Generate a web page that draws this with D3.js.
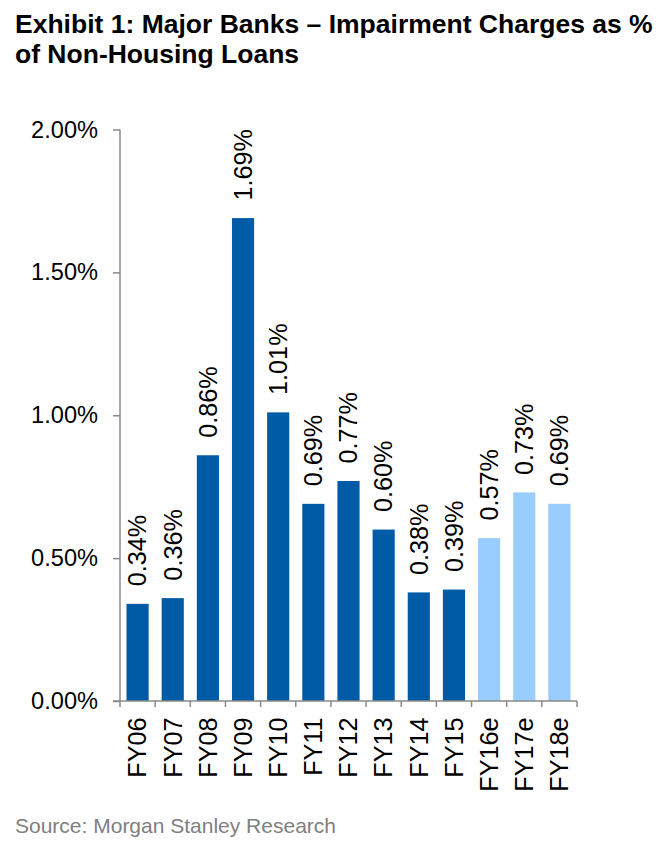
<!DOCTYPE html>
<html>
<head>
<meta charset="utf-8">
<script src="https://cdn.jsdelivr.net/npm/d3@7"></script>
<style>
  html, body { margin: 0; padding: 0; background: #fff; }
  svg { display: block; font-family: "Liberation Sans", Arial, sans-serif; }
</style>
</head>
<body>
<svg id="chart" width="666" height="845"></svg>
<script>
const categories = ["FY06","FY07","FY08","FY09","FY10","FY11","FY12","FY13","FY14","FY15","FY16e","FY17e","FY18e"];
const values = [0.34, 0.36, 0.86, 1.69, 1.01, 0.69, 0.77, 0.60, 0.38, 0.39, 0.57, 0.73, 0.69];
const isEstimate = [false,false,false,false,false,false,false,false,false,false,true,true,true];
const yTicks = [0, 0.5, 1.0, 1.5, 2.0];
const titleLines = ["Exhibit 1: Major Banks \u2013 Impairment Charges as %", "of Non-Housing Loans"];
const sourceText = "Source: Morgan Stanley Research";

(function () {
const svg = d3.select("#chart");
const pl = 120, pr = 577, pt = 129.5, pb = 701;
const axisColor = "#8a8a8a";

const x = d3.scaleBand().domain(categories).range([pl, pr]).paddingInner(0.37).paddingOuter(0.185);
const xb = d3.scaleBand().domain(categories).range([pl, pr]);
const y = d3.scaleLinear().domain([0, 2]).range([pb, pt]);

// Title
svg.append("g").selectAll("text").data(titleLines).join("text")
  .attr("x", 15).attr("y", (d, i) => 33 + i * 30)
  .attr("font-size", 26.5).attr("font-weight", "bold").attr("fill", "#000")
  .text(d => d);

// Bars
svg.append("g").selectAll("rect").data(values).join("rect")
  .attr("x", (d, i) => x(categories[i]))
  .attr("width", x.bandwidth())
  .attr("y", d => y(d))
  .attr("height", d => y(0) - y(d))
  .attr("fill", (d, i) => isEstimate[i] ? "#99CCFF" : "#005BA6");

// Value labels
svg.append("g").selectAll("text").data(values).join("text")
  .attr("transform", (d, i) => `translate(${x(categories[i]) + x.bandwidth() / 2},${y(d) - 17.5}) rotate(-90)`)
  .attr("dy", "0.35em")
  .attr("font-size", 25.2).attr("fill", "#000")
  .text(d => d.toFixed(2) + "%");

// Y axis
const yAxis = d3.axisLeft(y).tickValues(yTicks).tickSize(7).tickPadding(15)
  .tickFormat(d => d.toFixed(2) + "%");
const gy = svg.append("g").attr("transform", `translate(${pl},0)`).call(yAxis);
gy.select(".domain").attr("stroke", axisColor).attr("stroke-width", 1.5).attr("d", `M0,${pt}V${pb}`);
gy.selectAll(".tick line").attr("stroke", axisColor).attr("stroke-width", 1.5);
gy.selectAll(".tick text").attr("font-size", 23.6).attr("fill", "#000").attr("font-family", "Liberation Sans, Arial, sans-serif");

// X axis
const xAxis = d3.axisBottom(xb).tickSize(0).tickFormat("");
const gx = svg.append("g").attr("transform", `translate(0,${pb})`).call(xAxis);
gx.select(".domain").attr("stroke", axisColor).attr("stroke-width", 1.5).attr("d", `M${pl - 7},0H${pr}`);
gx.selectAll(".tick").remove();
const boundaries = categories.map(c => xb(c)).concat([pr]);
gx.selectAll("line.bt").data(boundaries).join("line").attr("class", "bt")
  .attr("x1", d => d).attr("x2", d => d).attr("y1", 0).attr("y2", 6)
  .attr("stroke", axisColor).attr("stroke-width", 1.5);
gx.selectAll("text.cl").data(categories).join("text").attr("class", "cl")
  .attr("transform", d => `translate(${xb(d) + xb.bandwidth() / 2},16.5) rotate(-90)`)
  .attr("dy", "0.35em")
  .attr("text-anchor", "end")
  .attr("font-size", 25.2).attr("fill", "#000")
  .text(d => d);

// Source
svg.append("text").attr("x", 15).attr("y", 833)
  .attr("font-size", 21).attr("fill", "#808080")
  .text(sourceText);
})();
</script>
</body>
</html>
